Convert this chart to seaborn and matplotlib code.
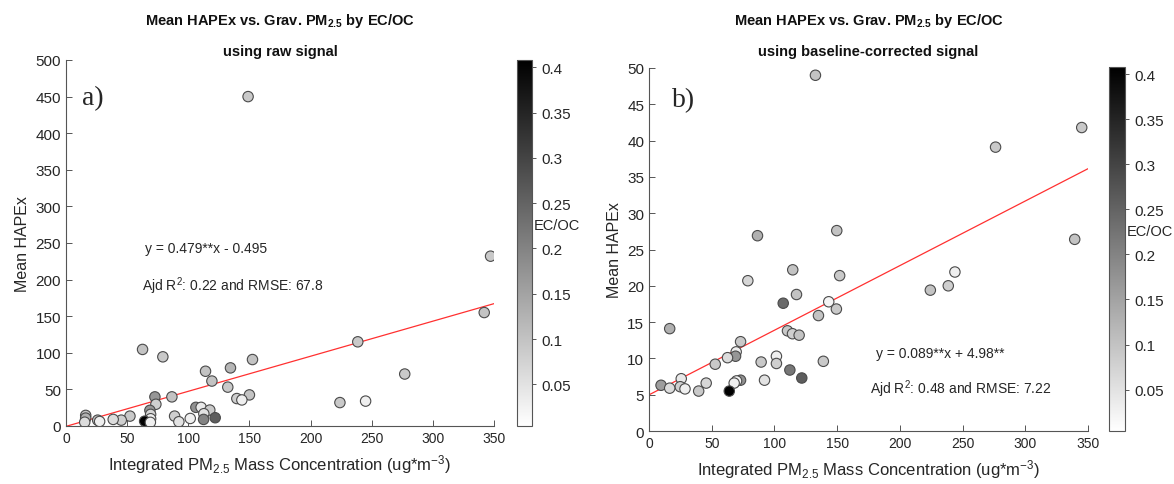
import pandas as pd
import seaborn as sns
import matplotlib.pyplot as plt
from matplotlib import cm, colors

# panel a) raw signal
pm_raw = [148.9, 347.2, 342.0, 238.6, 277.0, 224.0, 245.0, 62.6, 79.2, 152.5, 114.1, 134.5, 119.3, 132.3,
          72.7, 86.6, 150.0, 139.7, 143.8, 73.5, 68.6, 106.2, 110.5, 117.6, 112.7, 122.0, 112.5, 88.8,
          92.3, 101.6, 69.2, 69.2, 64.3, 52.3, 45.2, 38.6, 25.9, 27.5, 16.1, 16.1, 15.3, 69.0]
hapex_raw = [450, 232, 155, 115, 71, 32, 34, 104.6, 94.5, 90.8, 74.8, 79.4, 61.4, 53.1,
             39.8, 39.8, 42.5, 37.5, 35.6, 29.7, 21.4, 25.5, 25.5, 21.8, 16.8, 11.3, 9.0, 13.5,
             5.8, 10.3, 15.9, 9.9, 6.6, 13.5, 8.0, 9.0, 8.0, 6.2, 14.5, 10.8, 5.2, 5.0]
ecoc_raw = [0.09, 0.09, 0.10, 0.09, 0.09, 0.09, 0.03, 0.10, 0.09, 0.10, 0.10, 0.12, 0.10, 0.09,
            0.17, 0.10, 0.10, 0.08, 0.03, 0.08, 0.17, 0.18, 0.04, 0.09, 0.05, 0.26, 0.20, 0.08,
            0.05, 0.03, 0.07, 0.03, 0.408, 0.09, 0.08, 0.06, 0.10, 0.03, 0.10, 0.13, 0.06, 0.03]

# panel b) baseline-corrected signal
pm_bc = [132.7, 345.0, 276.3, 339.4, 86.5, 149.7, 114.6, 152.0, 243.9, 238.6,
         224.3, 78.8, 117.6, 107.0, 143.3, 149.4, 135.1, 16.5, 110.4, 114.4,
         119.7, 73.0, 69.5, 69.0, 62.6, 101.6, 101.6, 89.4, 139.0, 52.8,
         112.3, 121.8, 25.7, 92.1, 73.0, 69.8, 67.9, 45.6, 9.6, 24.9,
         16.5, 28.7, 39.6, 64.0]
hapex_bc = [49.0, 41.8, 39.1, 26.4, 26.9, 27.6, 22.2, 21.4, 21.9, 20.0,
            19.4, 20.7, 18.8, 17.6, 17.8, 16.8, 15.9, 14.1, 13.8, 13.4,
            13.2, 12.3, 10.9, 10.3, 10.1, 10.3, 9.3, 9.5, 9.6, 9.2,
            8.4, 7.3, 7.2, 7.0, 7.0, 6.9, 6.6, 6.6, 6.3, 6.1,
            5.9, 5.8, 5.5, 5.5]
ecoc_bc = [0.10, 0.09, 0.09, 0.10, 0.13, 0.10, 0.10, 0.09, 0.03, 0.08,
           0.10, 0.07, 0.10, 0.24, 0.02, 0.09, 0.10, 0.13, 0.09, 0.08,
           0.10, 0.09, 0.03, 0.17, 0.06, 0.03, 0.08, 0.09, 0.09, 0.09,
           0.22, 0.26, 0.04, 0.05, 0.18, 0.02, 0.03, 0.07, 0.16, 0.08,
           0.06, 0.03, 0.09, 0.408]

# fit lines
slope_raw, icpt_raw = 0.479, -0.495
slope_bc, icpt_bc = 0.089, 4.98

ecoc_min, ecoc_max = 0.004, 0.408
cbar_ticks = [0.05, 0.1, 0.15, 0.2, 0.25, 0.3, 0.35, 0.4]

sns.set_style("ticks")
plt.rcParams['font.family'] = ['Liberation Sans', 'DejaVu Sans']
plt.rcParams['mathtext.fontset'] = 'custom'
plt.rcParams['mathtext.rm'] = 'Liberation Sans'
plt.rcParams['mathtext.it'] = 'Liberation Sans:italic'
plt.rcParams['mathtext.bf'] = 'Liberation Sans:bold'

W, H = 1174, 485
fig = plt.figure(figsize=(11.74, 4.85), dpi=100)


def px_axes(x0, y0, x1, y1):
    # pixel box (top-left origin) -> figure axes
    return fig.add_axes([x0 / W, 1 - y1 / H, (x1 - x0) / W, (y1 - y0) / H])


def draw_panel(ax, cax, pm, hapex, ecoc, slope, icpt, ymax, ystep, subtitle, eq, fit, eq_xy, fit_xy, tag, tag_xy):
    df = pd.DataFrame({'pm': pm, 'hapex': hapex, 'ecoc': ecoc})
    sns.scatterplot(data=df, x='pm', y='hapex', hue='ecoc', palette='gray_r',
                    hue_norm=(ecoc_min, ecoc_max), s=56, edgecolor='#4a4a4a',
                    linewidth=0.8, legend=False, ax=ax, zorder=3)
    ax.axline((0, icpt), slope=slope, color='#ff3030', lw=0.9, zorder=2)
    ax.set_xlim(0, 350)
    ax.set_ylim(0, ymax)
    ax.set_xticks(range(0, 351, 50))
    ax.set_yticks([i * ystep for i in range(11)])
    ax.set_yticklabels(['%g' % (i * ystep) for i in range(11)])
    sns.despine(ax=ax)
    for sp in ['left', 'bottom']:
        ax.spines[sp].set_color('#555555')
        ax.spines[sp].set_linewidth(0.8)
    ax.tick_params(direction='in', length=4, width=0.7, color='#555555',
                   labelsize=10, labelcolor='#262626')
    ax.tick_params(axis='y', labelsize=11)
    ax.set_xlabel('Integrated PM$_{2.5}$ Mass Concentration (ug*m$^{-3}$)', fontsize=12,
                  color='#262626', labelpad=5)
    ax.set_ylabel('Mean HAPEx', fontsize=11.5, color='#262626')

    # two-line title, same height in both panels
    bb = ax.get_position()
    xc = bb.x0 + bb.width / 2
    fig.text(xc, 1 - 21 / H, 'Mean HAPEx vs. Grav. PM$_{\\mathbf{2.5}}$ by EC/OC',
             ha='center', va='center', fontsize=10.5, fontweight='bold', color='#111111')
    fig.text(xc, 1 - 52 / H, subtitle,
             ha='center', va='center', fontsize=10.5, fontweight='bold', color='#111111')

    ax.text(eq_xy[0], eq_xy[1], eq, fontsize=10, va='center')
    ax.text(fit_xy[0], fit_xy[1], fit, fontsize=10, va='center')
    ax.text(tag_xy[0], tag_xy[1], tag, fontsize=20, family='Liberation Serif', va='center')

    sm = cm.ScalarMappable(norm=colors.Normalize(ecoc_min, ecoc_max), cmap='gray_r')
    cb = fig.colorbar(sm, cax=cax, ticks=cbar_ticks)
    cb.ax.set_yticklabels(['%g' % t for t in cbar_ticks])
    cb.outline.set_edgecolor('#555555')
    cb.outline.set_linewidth(0.8)
    cb.ax.tick_params(direction='out', length=3, width=0.7, color='#555555',
                      labelsize=11, labelcolor='#262626')
    cb.ax.text(1.1, 0.226, 'EC/OC', transform=cb.ax.get_yaxis_transform(),
               fontsize=10.5, va='center', ha='left', color='#262626')


ax1 = px_axes(66, 61, 494, 427)
cax1 = px_axes(517, 61, 532, 427)
ax2 = px_axes(649, 69, 1088, 432)
cax2 = px_axes(1109, 68, 1125, 432)

draw_panel(ax1, cax1, pm_raw, hapex_raw, ecoc_raw, slope_raw, icpt_raw, 500, 50,
           'using raw signal', 'y = 0.479**x - 0.495', 'Ajd R$^2$: 0.22 and RMSE: 67.8',
           (65, 243), (62, 192), 'a)', (13, 448))
draw_panel(ax2, cax2, pm_bc, hapex_bc, ecoc_bc, slope_bc, icpt_bc, 50, 5,
           'using baseline-corrected signal', 'y = 0.089**x + 4.98**', 'Ajd R$^2$: 0.48 and RMSE: 7.22',
           (181, 10.7), (176, 5.9), 'b)', (18, 45.6))

fig.savefig('out.png', dpi=100)
